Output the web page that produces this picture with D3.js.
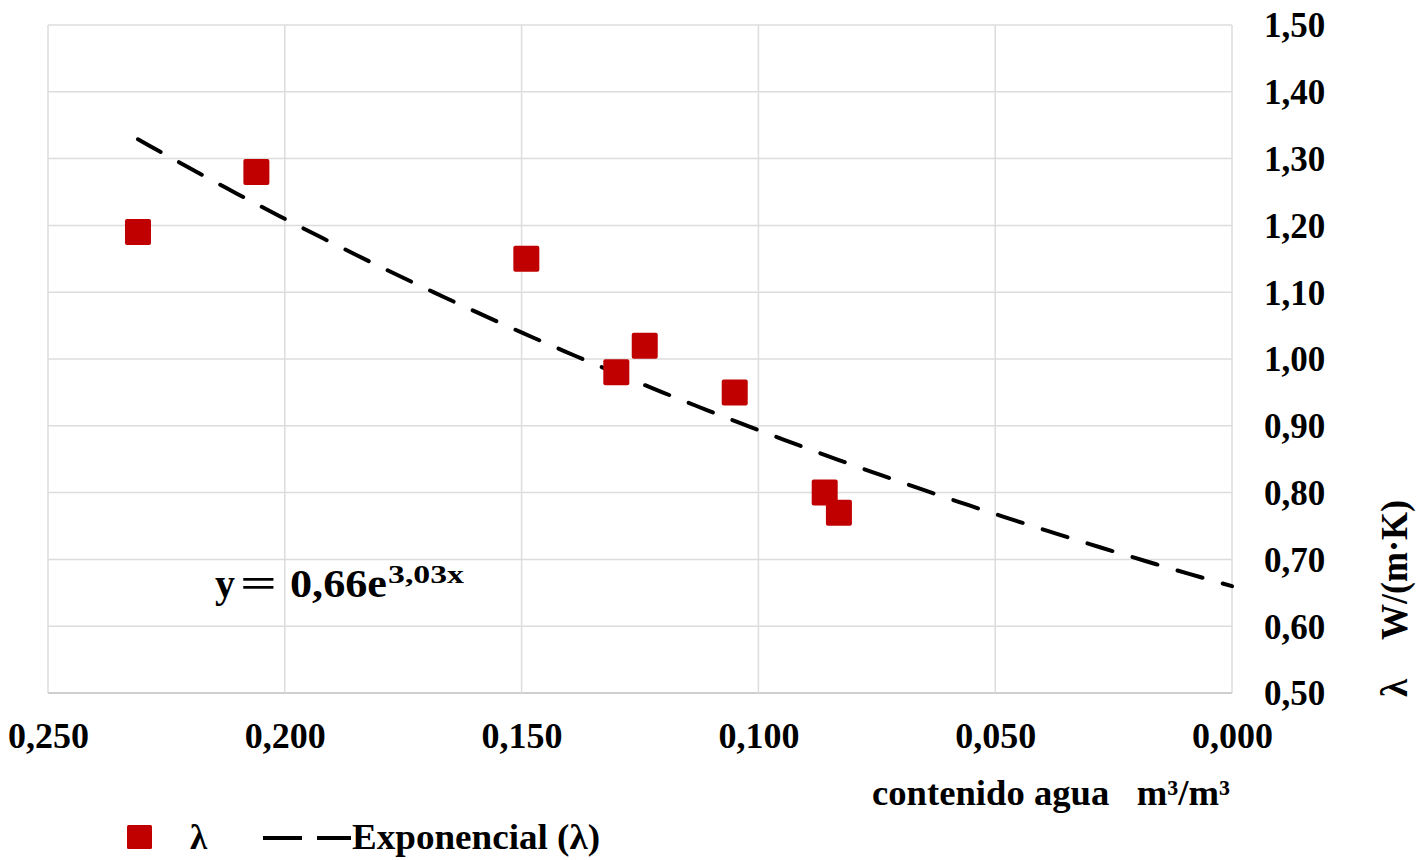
<!DOCTYPE html>
<html>
<head>
<meta charset="utf-8">
<script src="https://cdn.jsdelivr.net/npm/d3@7"></script>
<style>
  html, body { margin: 0; padding: 0; background: #ffffff; }
  svg { display: block; }
  text { font-family: "Liberation Serif", "Times New Roman", serif; font-weight: bold; fill: #000; }
</style>
</head>
<body>
<svg id="chart" width="1421" height="860"></svg>
<script>
// ---- data ----
const waterContent = [0.231, 0.206, 0.149, 0.130, 0.124, 0.105, 0.086, 0.083];
const lambdaValues = [1.19, 1.28, 1.15, 0.98, 1.02, 0.95, 0.80, 0.77];
const xTickValues = [0.250, 0.200, 0.150, 0.100, 0.050, 0.000];
const yTickValues = [0.50, 0.60, 0.70, 0.80, 0.90, 1.00, 1.10, 1.20, 1.30, 1.40, 1.50];
const trendA = 0.66;
const trendB = 3.03;
const seriesName = "λ";
const trendName = "Exponencial (λ)";
const xTitle = "contenido agua   m³/m³";
const yTitleSymbol = "λ";
const yTitleUnit = "W/(m·K)";

// ---- layout ----
const svg = d3.select("#chart");
const plot = { left: 48, right: 1232, top: 25, bottom: 693 };
const x = d3.scaleLinear().domain([0.25, 0]).range([plot.left, plot.right]);
const y = d3.scaleLinear().domain([0.5, 1.5]).range([plot.bottom, plot.top]);
const fmt = (d, n) => d.toFixed(n).replace(".", ",");

// gridlines
const grid = svg.append("g");
grid.selectAll("line.h").data(yTickValues).join("line")
  .attr("x1", plot.left).attr("x2", plot.right)
  .attr("y1", d => y(d)).attr("y2", d => y(d))
  .attr("stroke", d => d === 0.5 ? "#cfcfcf" : "#dcdcdc")
  .attr("stroke-width", d => d === 0.5 ? 2 : 1.5);
grid.selectAll("line.v").data(xTickValues).join("line")
  .attr("y1", plot.top).attr("y2", plot.bottom)
  .attr("x1", d => x(d)).attr("x2", d => x(d))
  .attr("stroke", "#dcdcdc").attr("stroke-width", 1.5);

// right y axis labels
const yAxis = d3.axisRight(y).tickValues(yTickValues).tickSize(0).tickPadding(0)
  .tickFormat(d => fmt(d, 2));
const gy = svg.append("g").attr("transform", `translate(1264,0)`).call(yAxis);
gy.select(".domain").remove();
gy.selectAll("text").attr("font-size", 35).attr("font-family", "Liberation Serif")
  .attr("font-weight", "bold").attr("fill", "#000").attr("x", 0).attr("dy", "0.34em")
  .attr("text-anchor", "start");

// bottom x axis labels
const xAxis = d3.axisBottom(x).tickValues(xTickValues).tickSize(0).tickPadding(0)
  .tickFormat(d => fmt(d, 3));
const gx = svg.append("g").attr("transform", `translate(0,${plot.bottom})`).call(xAxis);
gx.select(".domain").remove();
gx.selectAll("text").attr("font-size", 36).attr("font-family", "Liberation Serif")
  .attr("font-weight", "bold").attr("fill", "#000").attr("y", 55).attr("dy", 0);

// trendline
const xStart = d3.max(waterContent);
const trendXs = d3.range(0, 101).map(i => xStart * (1 - i / 100));
const line = d3.line().x(d => x(d)).y(d => y(trendA * Math.exp(trendB * d)));
svg.append("path").datum(trendXs).attr("d", line)
  .attr("fill", "none").attr("stroke", "#000").attr("stroke-width", 4)
  .attr("stroke-dasharray", "26,21").attr("stroke-linecap", "round");

// points
const pts = waterContent.map((w, i) => ({ w, l: lambdaValues[i] }));
const sq = 26;
svg.append("g").selectAll("rect").data(pts).join("rect")
  .attr("x", d => x(d.w) - sq / 2).attr("y", d => y(d.l) - sq / 2)
  .attr("width", sq).attr("height", sq).attr("rx", 2)
  .attr("fill", "#C00000");

// equation label
const eq = svg.append("text").attr("x", 215).attr("y", 597).attr("font-size", 40);
eq.append("tspan").attr("x", 215).text("y");
eq.append("tspan").attr("x", 240).attr("textLength", 37).attr("lengthAdjust", "spacingAndGlyphs").text("=");
eq.append("tspan").attr("x", 290).attr("textLength", 97).attr("lengthAdjust", "spacingAndGlyphs").text(`${fmt(trendA, 2)}e`);
svg.append("text").attr("x", 388).attr("y", 583).attr("font-size", 25)
  .attr("textLength", 76).attr("lengthAdjust", "spacingAndGlyphs").text(`${fmt(trendB, 2)}x`);

// x title
svg.append("text").attr("x", 872).attr("y", 805).attr("font-size", 35)
  .attr("textLength", 358).attr("lengthAdjust", "spacingAndGlyphs")
  .attr("xml:space", "preserve").style("white-space", "pre").text(xTitle);

// y title (rotated)
svg.append("text").attr("transform", "translate(1407,697) rotate(-90)")
  .attr("font-size", 37).attr("text-anchor", "start").text(yTitleSymbol);
svg.append("text").attr("transform", "translate(1407,640) rotate(-90)")
  .attr("font-size", 37).attr("textLength", 140).attr("lengthAdjust", "spacingAndGlyphs")
  .attr("text-anchor", "start").text(yTitleUnit);

// legend
const lg = svg.append("g");
lg.append("rect").attr("x", 127).attr("y", 825).attr("width", 25).attr("height", 24)
  .attr("rx", 1.5).attr("fill", "#C00000");
lg.append("text").attr("x", 190).attr("y", 849).attr("font-size", 35).text(seriesName);
lg.append("line").attr("x1", 263).attr("x2", 351).attr("y1", 838).attr("y2", 838)
  .attr("stroke", "#000").attr("stroke-width", 4).attr("stroke-dasharray", "39,15");
lg.append("text").attr("x", 352).attr("y", 849).attr("font-size", 35)
  .attr("textLength", 248).attr("lengthAdjust", "spacingAndGlyphs").text(trendName);
</script>
</body>
</html>
